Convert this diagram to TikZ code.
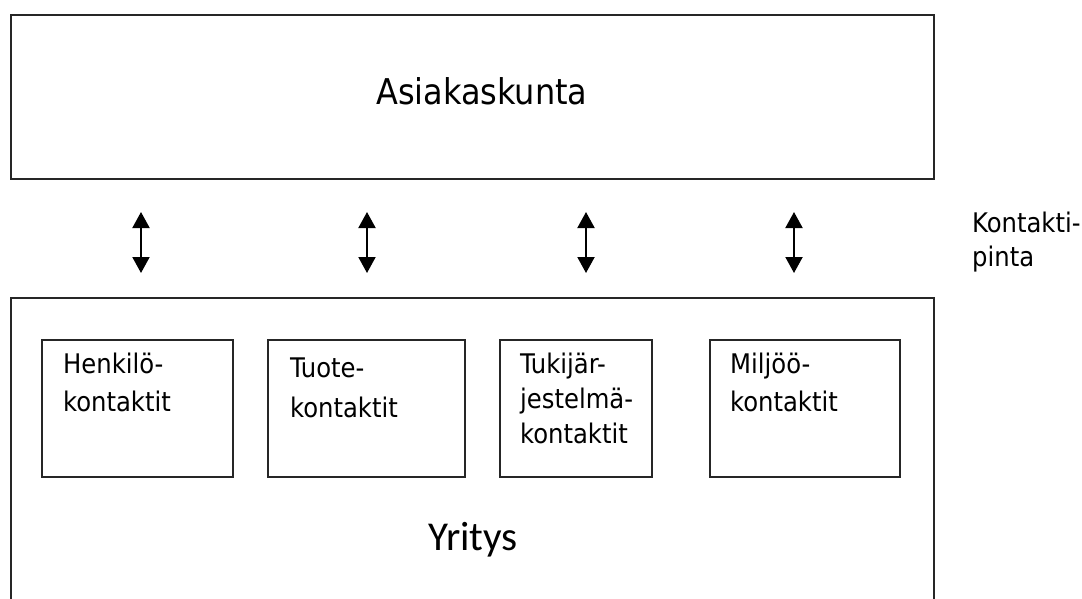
\documentclass[tikz,border=0pt]{standalone}
\usepackage{fontspec}
\setmainfont{DejaVu Sans Condensed}
\newfontfamily\yfont{Carlito}
\usetikzlibrary{arrows.meta}
\tikzset{
  frame/.style={draw=black!85, line width=1.6pt, inner sep=0pt, anchor=north west},
  small/.style={font=\fontsize{27}{32}\selectfont, inner sep=0pt, anchor=base west},
  dbl/.style={line width=2pt, {Triangle[width=17pt,length=16pt]}-{Triangle[width=17pt,length=16pt]}}
}
\begin{document}
\begin{tikzpicture}[x=1pt,y=-1pt]
\useasboundingbox (0,0) rectangle (1082,598);
\clip (0,0) rectangle (1082,598);
% top box
\node[frame, minimum width=923pt, minimum height=164pt] (asiakas) at (10,14) {};
\node[font=\fontsize{35.5}{40}\selectfont, inner sep=0pt, anchor=base] (asiakastxt) at (482,104) {Asiakaskunta};
% bottom box (open at the bottom)
\node[frame, minimum width=923pt, minimum height=340pt] (yritys) at (10,297) {};
\node[font=\yfont\fontsize{41}{46}\selectfont, inner sep=0pt, anchor=base] (yritystxt) at (473,550) {Yritys};
% inner boxes
\node[frame, minimum width=191pt, minimum height=137pt] (b1) at (41,339) {};
\node[frame, minimum width=197pt, minimum height=137pt] (b2) at (267,339) {};
\node[frame, minimum width=152pt, minimum height=137pt] (b3) at (499,339) {};
\node[frame, minimum width=190pt, minimum height=137pt] (b4) at (709,339) {};
\node[small] (t1a) at (63,373) {Henkilö-};
\node[small] (t1b) at (63,411) {kontaktit};
\node[small] (t2a) at (290,377) {Tuote-};
\node[small] (t2b) at (290,417) {kontaktit};
\node[small] (t3a) at (520,373) {Tukijär-};
\node[small] (t3b) at (520,408) {jestelmä-};
\node[small] (t3c) at (520,443) {kontaktit};
\node[small] (t4a) at (730,373) {Miljöö-};
\node[small] (t4b) at (730,411) {kontaktit};
\node[small] (k1) at (972,232) {Kontakti-};
\node[small] (k2) at (972,266) {pinta};
% arrows
\foreach \i/\x in {1/141,2/367,3/586,4/794}{
  \coordinate (u\i) at (\x,212);
  \coordinate (d\i) at (\x,273);
  \draw[dbl] (u\i) -- (d\i);
}
\end{tikzpicture}
\end{document}
